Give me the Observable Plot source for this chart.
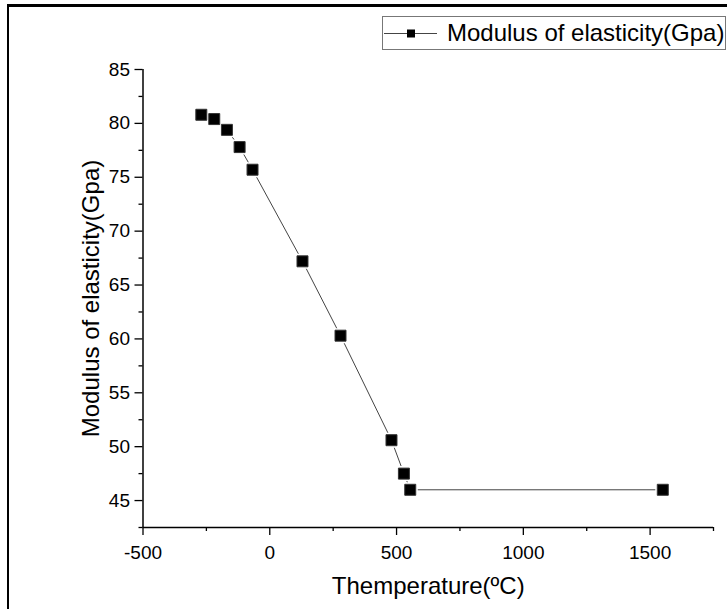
<!DOCTYPE html>
<html>
<head>
<meta charset="utf-8">
<script src="https://cdn.jsdelivr.net/npm/d3@7"></script>
<script src="https://cdn.jsdelivr.net/npm/@observablehq/plot@0.6"></script>
<style>
  body { margin: 0; background: #fff; }
  #wrap { position: relative; width: 727px; height: 609px; overflow: hidden; background: #fff;
          font-family: "Liberation Sans", Arial, sans-serif; }
  #frame { position: absolute; left: 7px; top: 4px; width: 800px; height: 700px;
           border-left: 2.5px solid #000; border-top: 3.5px solid #000; box-sizing: border-box; pointer-events: none; }
  #chart { position: absolute; left: 0; top: 0; }
  #legend { position: absolute; left: 382px; top: 16px; }
</style>
</head>
<body>
<div id="wrap">
  <div id="chart"></div>
  <div id="frame"></div>
  <div id="legend"></div>
</div>
<script>
// ---- data ----
const seriesName = "Modulus of elasticity(Gpa)";
const temperature = [-270, -219, -169, -119, -68, 129, 279, 480, 529, 554, 1550];
const modulus     = [80.8, 80.4, 79.4, 77.8, 75.7, 67.2, 60.3, 50.6, 47.5, 46.0, 46.0];
const xTicks = [-500, 0, 500, 1000, 1500];
const xMinorTicks = [-250, 250, 750, 1250, 1750];
const yTicks = [45, 50, 55, 60, 65, 70, 75, 80, 85];
const yMinorTicks = [42.5, 47.5, 52.5, 57.5, 62.5, 67.5, 72.5, 77.5, 82.5];
const xLabel = "Themperature(ºC)";
const yLabel = "Modulus of elasticity(Gpa)";

const data = temperature.map((t, i) => ({t, m: modulus[i]}));

const fontFamily = '"Liberation Sans", Arial, sans-serif';

const chart = Plot.plot({
  width: 727,
  height: 609,
  marginLeft: 142.5,
  marginRight: 14,
  marginTop: 69,
  marginBottom: 82,
  style: {fontFamily, fontSize: "19px", color: "#000", background: "transparent", overflow: "visible"},
  x: {domain: [-500, 1750], axis: null},
  y: {domain: [42.5, 85], axis: null},
  marks: [
    Plot.axisX({ticks: xTicks, tickSize: 8, tickPadding: 10, tickFormat: d => String(d), label: null, strokeWidth: 1.3}),
    Plot.axisX({ticks: xMinorTicks, tickSize: 4, tickFormat: () => "", label: null, strokeWidth: 1.3}),
    Plot.axisY({ticks: yTicks, tickSize: 8, tickPadding: 5, tickFormat: d => String(d), label: null, strokeWidth: 1.3}),
    Plot.axisY({ticks: yMinorTicks, tickSize: 4, tickFormat: () => "", label: null, strokeWidth: 1.3}),
    Plot.ruleX([-500], {stroke: "#000", strokeWidth: 1.5}),
    Plot.ruleY([42.5], {stroke: "#000", strokeWidth: 1.5}),
    Plot.line(data, {x: "t", y: "m", stroke: "#444", strokeWidth: 1}),
    Plot.dot(data, {x: "t", y: "m", symbol: "square", r: 6.2, fill: "#fff", stroke: "#fff", strokeWidth: 4}),
    Plot.dot(data, {x: "t", y: "m", symbol: "square", r: 6.2, fill: "#000", stroke: "#333", strokeWidth: 1}),
    Plot.text([xLabel], {frameAnchor: "bottom", textAnchor: "middle", lineAnchor: "bottom", dy: 66, fontSize: 24, fill: "#000"}),
    Plot.text([yLabel], {frameAnchor: "left", textAnchor: "middle", rotate: -90, dx: -52, fontSize: 24, fill: "#000"})
  ]
});
// enlarge tick labels
d3.select(chart).selectAll("g[aria-label*='tick label']")
  .attr("font-size", null).style("font-size", "19px").style("font-variant", "normal");
d3.select(chart).selectAll("g[aria-label*='tick label'] text").style("font-size", "19px");
document.getElementById("chart").appendChild(chart);

// ---- legend ----
const lw = 344, lh = 34;
const leg = d3.create("svg").attr("width", lw).attr("height", lh)
  .style("font-family", fontFamily).style("overflow", "visible");
leg.append("rect").attr("x", 0.5).attr("y", 0.5).attr("width", lw - 1).attr("height", lh - 1)
  .attr("fill", "#fff").attr("stroke", "#777").attr("stroke-width", 1);
leg.append("line").attr("x1", 2).attr("x2", 55).attr("y1", 17.5).attr("y2", 17.5)
  .attr("stroke", "#444").attr("stroke-width", 1);
leg.append("rect").attr("x", 25).attr("y", 13.5).attr("width", 8).attr("height", 8)
  .attr("fill", "#000");
leg.append("text").attr("x", 65).attr("y", 24.5).attr("font-size", 24).attr("fill", "#000").text(seriesName);
document.getElementById("legend").appendChild(leg.node());
</script>
</body>
</html>
